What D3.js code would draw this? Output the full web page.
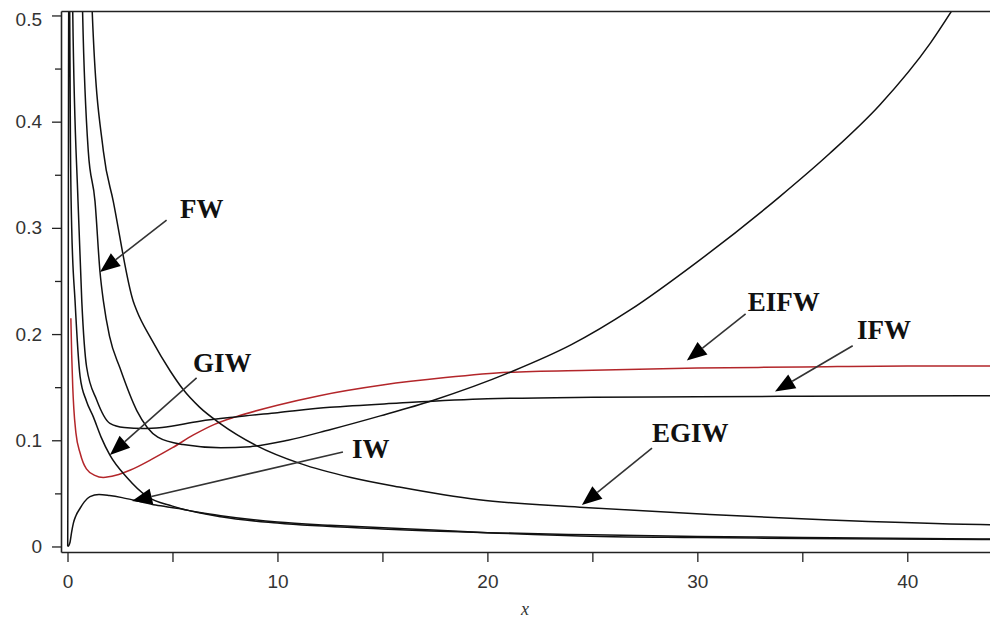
<!DOCTYPE html>
<html><head><meta charset="utf-8">
<script src="https://cdn.jsdelivr.net/npm/d3@7"></script>
<style>body{margin:0;background:#fff;} svg{display:block}</style>
</head><body><svg id="c" width="990" height="620"></svg>
<script>
// ---- data ----
const fwX  = [0.66, 0.72, 0.99, 1.31, 1.55, 1.71, 2.0, 2.5, 3.3, 4.3, 5.5, 7.3, 8.7, 10.5, 12.5, 14.9, 17.4, 21.2, 24, 26.8, 30, 33.9, 36.3, 38.7, 41.1, 42.3];
const fwY  = [0.56, 0.502, 0.372, 0.325, 0.258, 0.231, 0.198, 0.168, 0.128, 0.103, 0.096, 0.093, 0.094, 0.100, 0.110, 0.123, 0.1375, 0.165, 0.19, 0.2227, 0.268, 0.329, 0.370, 0.416, 0.474, 0.51];
const egiwX = [1.1, 1.18, 1.71, 2.18, 3.13, 3.3, 4.0, 4.9, 5.5, 6.3, 7.26, 9, 11.1, 13.5, 15.8, 19.6, 24.4, 30.6, 36.3, 42.7, 44];
const egiwY = [0.55, 0.502, 0.372, 0.325, 0.231, 0.222, 0.195, 0.165, 0.148, 0.131, 0.116, 0.095, 0.078, 0.065, 0.056, 0.044, 0.037, 0.030, 0.025, 0.021, 0.0205];
const ifwX = [0.2, 0.25, 0.5, 0.68, 0.91, 1.39, 2.02, 2.7, 3.6, 4.5, 6.3, 8, 10, 12.5, 15.8, 20, 25, 30, 35, 44];
const ifwY = [0.58, 0.502, 0.325, 0.231, 0.169, 0.138, 0.116, 0.112, 0.111, 0.112, 0.118, 0.122, 0.126, 0.131, 0.135, 0.139, 0.1405, 0.141, 0.1415, 0.142];
const giwX = [0.01, 0.03, 0.05, 0.07, 0.1, 0.14, 0.2, 0.36, 0.6, 0.9, 1.23, 1.6, 2.02, 2.83, 3.8, 5, 7.3, 10, 15, 20, 25, 30, 35, 44];
const giwY = [0, 0.15, 0.45, 0.6, 0.52, 0.38, 0.30, 0.231, 0.16, 0.137, 0.122, 0.103, 0.086, 0.065, 0.047, 0.038, 0.028, 0.022, 0.0165, 0.013, 0.011, 0.0095, 0.0085, 0.007];
const iwX  = [0.03, 0.12, 0.2, 0.28, 0.4, 0.6, 0.8, 1.07, 1.5, 2.0, 2.6, 3.3, 4.2, 5.2, 6.3, 7.3, 10, 12.5, 15.8, 20, 25.4, 30, 35, 44];
const iwY  = [0, 0.004, 0.014, 0.022, 0.029, 0.036, 0.042, 0.047, 0.049, 0.048, 0.046, 0.043, 0.039, 0.036, 0.032, 0.029, 0.023, 0.020, 0.017, 0.013, 0.0095, 0.0085, 0.0075, 0.0065];
const eifwX = [0.16, 0.2, 0.25, 0.3, 0.4, 0.6, 0.9, 1.3, 1.7, 2.3, 3.0, 4.0, 5.0, 6.0, 7.0, 8.0, 10, 12, 15, 18, 21, 25, 30, 35, 40, 44];
const eifwY = [0.215, 0.18, 0.15, 0.13, 0.107, 0.088, 0.073, 0.067, 0.065, 0.067, 0.072, 0.082, 0.093, 0.105, 0.115, 0.122, 0.133, 0.142, 0.152, 0.159, 0.164, 0.166, 0.168, 0.169, 0.17, 0.17];

const xTicks = [0, 10, 20, 30, 40];
const xMinor = [5, 15, 25, 35];
const yTicks = [0, 0.1, 0.2, 0.3, 0.4, 0.5];
const yMinor = [0.05, 0.15, 0.25, 0.35, 0.45];
const xTitle = "x";

// annotations (data coordinates): label, arrow tip, arrow tail, label anchor
const annLabels = ["FW", "GIW", "IW", "EIFW", "IFW", "EGIW"];
const annTipX   = [1.55, 2.02, 3.07, 29.5, 33.7, 24.5];
const annTipY   = [0.2585, 0.0862, 0.0428, 0.175, 0.146, 0.039];
const annTailX  = [4.72, 6.15, 13.12, 32.3, 37.4, 27.84];
const annTailY  = [0.3074, 0.1587, 0.089, 0.219, 0.189, 0.0927];
const annTextX  = [5.36, 5.98, 13.55, 32.4, 37.6, 27.84];
const annTextY  = [0.309, 0.1643, 0.0833, 0.222, 0.195, 0.0984];

// ---- drawing ----
const svg = d3.select("#c");
const x = d3.scaleLinear().domain([-0.31, 43.94]).range([61, 990]);
const y = d3.scaleLinear().domain([-0.0052, 0.5042]).range([552, 11]);

svg.append("defs").append("clipPath").attr("id", "clip")
  .append("rect").attr("x", 61).attr("y", 11).attr("width", 929).attr("height", 541);

const line = d3.line().x(d => x(d[0])).y(d => y(d[1])).curve(d3.curveMonotoneX);
const plot = svg.append("g").attr("clip-path", "url(#clip)");

const blackSeries = [[fwX, fwY], [egiwX, egiwY], [ifwX, ifwY], [giwX, giwY], [iwX, iwY]];
plot.append("path").datum(d3.zip(eifwX, eifwY)).attr("d", line)
  .attr("fill", "none").attr("stroke", "#b3262a").attr("stroke-width", 1.5);
blackSeries.forEach(([xs, ys]) => {
  plot.append("path").datum(d3.zip(xs, ys)).attr("d", line)
    .attr("fill", "none").attr("stroke", "#111").attr("stroke-width", 1.5);
});

// axes
const fmt = d => String(d);
const axStyle = g => {
  g.selectAll(".domain").attr("stroke", "#222").attr("stroke-width", 1.6);
  g.selectAll(".tick line").attr("stroke", "#222").attr("stroke-width", 1.3);
  g.selectAll("text").attr("fill", "#333").attr("font-family", "'Liberation Sans', Arial, sans-serif").attr("font-size", 19);
};
svg.append("g").attr("transform", "translate(0,552)")
  .call(d3.axisBottom(x).tickValues(xTicks).tickFormat(fmt).tickSize(10).tickSizeOuter(0).tickPadding(13)).call(axStyle);
svg.append("g").attr("transform", "translate(0,552)")
  .call(d3.axisBottom(x).tickValues(xMinor).tickFormat("").tickSize(10).tickSizeOuter(0)).call(axStyle)
  .select(".domain").remove();
const yAx = svg.append("g").attr("transform", "translate(61,0)")
  .call(d3.axisLeft(y).tickValues(yTicks).tickFormat(fmt).tickSize(9).tickSizeOuter(0).tickPadding(10)).call(axStyle);
yAx.selectAll(".tick text").filter(d => d === 0.5).attr("dy", "0.55em");
svg.append("g").attr("transform", "translate(61,0)")
  .call(d3.axisLeft(y).tickValues(yMinor).tickFormat("").tickSize(6).tickSizeOuter(0)).call(axStyle)
  .select(".domain").remove();
svg.append("g").attr("transform", "translate(0,11)")
  .call(d3.axisTop(x).tickValues([]).tickSizeOuter(0)).call(axStyle);

svg.append("text").attr("x", 525).attr("y", 615).attr("text-anchor", "middle")
  .attr("font-family", "'Liberation Serif', 'Times New Roman', serif").attr("font-style", "italic")
  .attr("font-size", 18).attr("fill", "#333").text(xTitle);

// annotations
const ann = svg.append("g");
annLabels.forEach((lab, i) => {
  const tx = x(annTipX[i]), ty = y(annTipY[i]);
  const sx = x(annTailX[i]), sy = y(annTailY[i]);
  const ang = Math.atan2(ty - sy, tx - sx);
  const L = 20, W = 8;
  const bx = tx - L * Math.cos(ang), by = ty - L * Math.sin(ang);
  ann.append("line").attr("x1", sx).attr("y1", sy).attr("x2", bx).attr("y2", by)
    .attr("stroke", "#333").attr("stroke-width", 1.6);
  const px = -Math.sin(ang), py = Math.cos(ang);
  ann.append("path")
    .attr("d", `M${tx},${ty}L${bx + W * px},${by + W * py}L${bx - W * px},${by - W * py}Z`)
    .attr("fill", "#000");
  ann.append("text").attr("x", x(annTextX[i])).attr("y", y(annTextY[i]))
    .attr("font-family", "'Liberation Serif', 'Times New Roman', serif").attr("font-weight", "bold")
    .attr("font-size", 27).attr("fill", "#111").text(lab);
});
</script></body></html>
